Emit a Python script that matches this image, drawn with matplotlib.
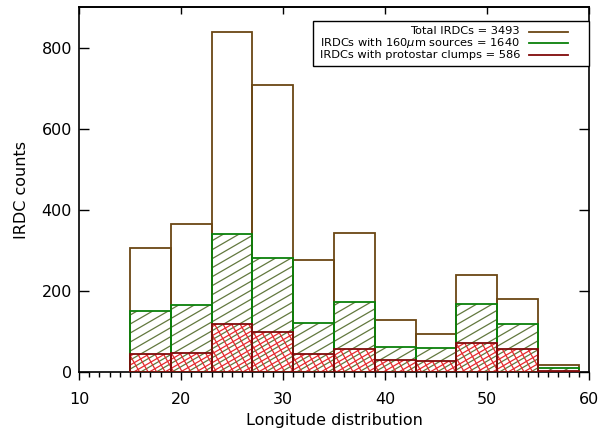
import matplotlib
matplotlib.use("Agg")
import matplotlib.pyplot as plt
from matplotlib.ticker import MultipleLocator
from matplotlib.collections import LineCollection
from matplotlib.transforms import IdentityTransform
from matplotlib.patches import Rectangle
from matplotlib.lines import Line2D
import numpy as np

# Galactic longitude bins (degrees) and counts per bin
bin_edges = [15, 19, 23, 27, 31, 35, 39, 43, 47, 51, 55, 59]
total_irdcs = [306, 366, 838, 707, 277, 343, 128, 94, 239, 179, 16]
irdcs_160um = [149, 164, 340, 280, 121, 173, 60, 59, 167, 117, 10]
irdcs_protostar = [44, 45, 118, 97, 44, 55, 28, 27, 70, 56, 2]

legend_labels = [
    "Total IRDCs = 3493",
    r"IRDCs with 160$\mu$m sources = 1640",
    "IRDCs with protostar clumps = 586",
]

brown = "#6b4714"
green = "#0a800a"
darkred = "#800a0a"
olive_hatch = "#62783e"
red_hatch = "#e52a2e"

plt.rcParams["font.family"] = ["DejaVu Sans"]

W, H = 609, 430
fig = plt.figure(figsize=(W / 100, H / 100), dpi=100)
ax = fig.add_axes([0.1297, 0.1356, 0.8373, 0.8474])

edges = np.array(bin_edges, dtype=float)
lefts = edges[:-1]
widths = np.diff(edges)

ax.set_xlim(10, 60)
ax.set_ylim(0, 900)


def line_fill(patches, angle, spacing, color, lw=0.9, phase=0.0, z=1):
    """Fill each patch with parallel lines at a given angle (degrees) and
    perpendicular spacing (pixels), clipped to the patch outline."""
    th = np.deg2rad(angle)
    d = np.array([np.cos(th), np.sin(th)])
    nrm = np.array([-np.sin(th), np.cos(th)])
    diag = np.hypot(W, H)
    ks = np.arange(-diag / spacing - 2, diag / spacing + 2)
    segs = []
    for k in ks:
        p0 = nrm * (k * spacing + phase)
        segs.append([p0 - d * diag * 1.5, p0 + d * diag * 1.5])
    for p in patches:
        lc = LineCollection(segs, colors=color, linewidths=lw,
                            transform=IdentityTransform(), zorder=z)
        ax.add_collection(lc, autolim=False)
        lc.set_clip_path(p)


# invisible bar shapes used as clipping regions for the line fills
green_shapes = ax.bar(lefts, irdcs_160um, width=widths, align="edge",
                      color="none", linewidth=0, zorder=0)
red_shapes = ax.bar(lefts, irdcs_protostar, width=widths, align="edge",
                    color="none", linewidth=0, zorder=0)

line_fill(green_shapes, 30, 7.8, olive_hatch, lw=0.9, z=1)
line_fill(red_shapes, 30, 7.8, red_hatch, lw=0.9, phase=3.5, z=2)
line_fill(red_shapes, -60, 7.4, red_hatch, lw=0.9, z=2)

# outlines
ax.bar(lefts, total_irdcs, width=widths, align="edge", fill=False,
       edgecolor=brown, linewidth=1.3, zorder=3)
ax.bar(lefts, irdcs_160um, width=widths, align="edge", fill=False,
       edgecolor=green, linewidth=1.3, zorder=4)
ax.bar(lefts, irdcs_protostar, width=widths, align="edge", fill=False,
       edgecolor=darkred, linewidth=1.3, zorder=5)

ax.xaxis.set_major_locator(MultipleLocator(10))
ax.xaxis.set_minor_locator(MultipleLocator(1))
ax.yaxis.set_major_locator(MultipleLocator(200))

ax.tick_params(axis="x", which="major", direction="out", length=5.8, width=1,
               top=False, labelsize=11.5, pad=9)
ax.tick_params(axis="x", which="minor", direction="out", length=3.6, width=1,
               top=False)
ax.tick_params(axis="y", which="major", direction="in", length=7.2, width=1,
               left=True, right=True, labelsize=11.5, pad=5)

top = ax.secondary_xaxis("top")
top.xaxis.set_major_locator(MultipleLocator(10))
top.tick_params(direction="in", length=5, width=1, labeltop=False)
top.spines["top"].set_linewidth(1.2)

for s in ax.spines.values():
    s.set_linewidth(1.2)

ax.set_xlabel("Longitude distribution", fontsize=11.5, va="baseline")
ax.xaxis.set_label_coords(0.5, -0.146)
ax.set_ylabel("IRDC counts", fontsize=11.5, va="center", ha="center")
ax.yaxis.set_label_coords(-0.113, 0.5)

# key box in the upper right corner
def px(x, y):
    return x / W, 1 - y / H

bx0, by0 = px(313, 66)
bx1, by1 = px(588.5, 20.7)
fig.add_artist(Rectangle((bx0, by0), bx1 - bx0, by1 - by0,
                         transform=fig.transFigure, facecolor="white",
                         edgecolor="black", linewidth=1.0, zorder=10))
for label, color, yc in zip(legend_labels, (brown, green, darkred),
                            (31.5, 43.2, 55.0)):
    tx, ty = px(520, yc)
    fig.text(tx, ty, label, ha="right", va="center", fontsize=8.2,
             zorder=11)
    lx0, ly = px(529, yc)
    lx1, _ = px(568, yc)
    fig.add_artist(Line2D([lx0, lx1], [ly, ly], transform=fig.transFigure,
                          color=color, linewidth=1.3, zorder=11))

fig.savefig("out.png", dpi=100)
